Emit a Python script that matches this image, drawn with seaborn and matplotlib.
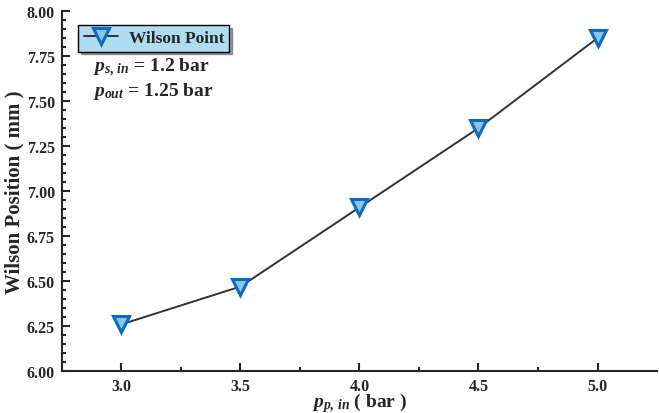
import matplotlib
matplotlib.use("Agg")
import matplotlib.pyplot as plt
import seaborn as sns
import pandas as pd

# data
p_in = [3.0, 3.5, 4.0, 4.5, 5.0]
wilson_pos = [6.26, 6.47, 6.91, 7.35, 7.85]
series_label = "Wilson Point"

sns.set_style("ticks")
plt.rcParams["font.family"] = ["Liberation Serif", "DejaVu Serif"]
plt.rcParams["font.weight"] = "bold"
plt.rcParams["mathtext.fontset"] = "custom"
plt.rcParams["mathtext.rm"] = "Liberation Serif:bold"
plt.rcParams["mathtext.it"] = "Liberation Serif:bold:italic"
plt.rcParams["mathtext.bf"] = "Liberation Serif:bold"

df = pd.DataFrame({"p": p_in, "w": wilson_pos})

fig = plt.figure(figsize=(6.59, 4.14), dpi=100)
ax = fig.add_axes([0.094, 0.101, 0.903, 0.870])

sns.lineplot(data=df, x="p", y="w", ax=ax, color="#333333", lw=1.4,
             marker="v", markersize=11, markerfacecolor="#8cc4e8",
             markeredgecolor="#0b6cc0", markeredgewidth=2.2,
             label=series_label)

ax.set_xlim(2.75, 5.25)
ax.set_ylim(6.0, 8.0)
ax.set_xticks([3.0, 3.5, 4.0, 4.5, 5.0])
ax.set_xticks([3.25, 3.75, 4.25, 4.75], minor=True)
ax.set_yticks([6.0, 6.25, 6.5, 6.75, 7.0, 7.25, 7.5, 7.75, 8.0])
ax.set_yticks([6.0 + 0.05 * i for i in range(41)], minor=True)
ax.set_xticklabels([f"{v:.1f}" for v in ax.get_xticks()], fontsize=11.5, fontweight="bold")
ax.set_yticklabels([f"{v:.2f}" for v in ax.get_yticks()], fontsize=11.5, fontweight="bold")
ax.tick_params(which="both", direction="in", width=1.5)
ax.tick_params(which="major", length=6, pad=5)
ax.tick_params(which="minor", length=3)
sns.despine(ax=ax)
for s in ["left", "bottom"]:
    ax.spines[s].set_linewidth(1.5)

ax.set_xlabel(r"$p_{p,\,in}$ ( bar )", fontsize=14, fontweight="bold", labelpad=-3)
ax.set_ylabel("Wilson Position ( mm )", fontsize=15, fontweight="bold", labelpad=2)

leg = ax.legend(loc="upper left", bbox_to_anchor=(0.013, 0.985), frameon=True,
                fancybox=False, shadow=True, facecolor="#b0dcef", edgecolor="black",
                framealpha=1, prop={"family": "Liberation Serif", "weight": "bold", "size": 12.5},
                handlelength=2.0, borderpad=0.3, handletextpad=0.6)
leg.get_frame().set_linewidth(1.0)

ax.text(0.053, 0.845, r"$p_{s,\,in}$ = 1.2 bar", transform=ax.transAxes,
        fontsize=14, fontweight="bold", va="center")
ax.text(0.053, 0.78, r"$p_{out}$ = 1.25 bar", transform=ax.transAxes,
        fontsize=14, fontweight="bold", va="center")

fig.savefig("out.png", dpi=100)
